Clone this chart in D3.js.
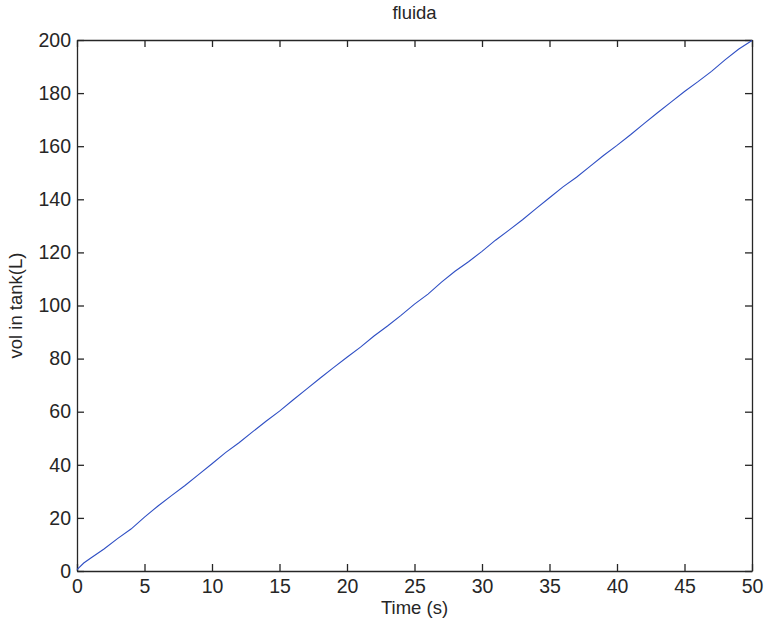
<!DOCTYPE html>
<html><head><meta charset="utf-8">
<script src="https://cdn.jsdelivr.net/npm/d3@7"></script>
<style>body{margin:0;background:#fff}svg{display:block}text{font-family:"Liberation Sans",Arial,sans-serif;fill:#262626}</style>
</head><body><svg id="c" width="764" height="630"></svg>
<script>
const timeValues = [0,0.5,1,2,3,4,5,6,7,8,9,10,11,12,13,14,15,16,17,18,19,20,21,22,23,24,25,26,27,28,29,30,31,32,33,34,35,36,37,38,39,40,41,42,43,44,45,46,47,48,49,50];
const volValues = [0.5,3,4.8,8.3,12.2,15.8,20.3,24.5,28.4,32.2,36.3,40.4,44.6,48.3,52.4,56.4,60.2,64.4,68.5,72.6,76.6,80.5,84.3,88.5,92.3,96.3,100.5,104.3,108.8,112.9,116.5,120.4,124.6,128.4,132.3,136.5,140.6,144.7,148.3,152.4,156.5,160.3,164.3,168.5,172.6,176.6,180.6,184.3,188.2,192.5,196.5,199.8];
const xTicks = [0,5,10,15,20,25,30,35,40,45,50];
const yTicks = [0,20,40,60,80,100,120,140,160,180,200];
const titleText = "fluida", xLabel = "Time (s)", yLabel = "vol in tank(L)";

const L=77,R=752,T=40,B=571, fs=19.5, tl=7, axCol="#262626";
const svg=d3.select("#c");
const x=d3.scaleLinear().domain([0,50]).range([L,R]);
const y=d3.scaleLinear().domain([0,200]).range([B,T]);

const g=svg.append("g");
const bx=g.append("g").attr("transform",`translate(0,${B})`).call(d3.axisBottom(x).tickValues(xTicks).tickSizeInner(-tl).tickSizeOuter(0).tickPadding(8));
const tx=g.append("g").attr("transform",`translate(0,${T})`).call(d3.axisTop(x).tickValues(xTicks).tickSizeInner(-tl).tickSizeOuter(0).tickFormat(""));
const ly=g.append("g").attr("transform",`translate(${L},0)`).call(d3.axisLeft(y).tickValues(yTicks).tickSizeInner(-tl).tickSizeOuter(0).tickPadding(6));
const ry=g.append("g").attr("transform",`translate(${R},0)`).call(d3.axisRight(y).tickValues(yTicks).tickSizeInner(-tl).tickSizeOuter(0).tickFormat(""));
[bx,tx,ly,ry].forEach(a=>{a.selectAll("path,line").attr("stroke",axCol).attr("stroke-width",1.3);a.selectAll("text").attr("font-size",fs).attr("font-family","Liberation Sans, Arial, sans-serif").attr("fill","#1a1a1a");});

const line=d3.line().x((d,i)=>x(timeValues[i])).y(d=>y(d));
g.append("path").datum(volValues).attr("d",line).attr("fill","none").attr("stroke","#2f4fc4").attr("stroke-width",1.1);

svg.append("text").attr("x",(L+R)/2).attr("y",19).attr("text-anchor","middle").attr("font-size",fs-1).text(titleText);
svg.append("text").attr("x",(L+R)/2).attr("y",614).attr("text-anchor","middle").attr("font-size",fs-1).text(xLabel);
svg.append("text").attr("transform",`translate(22,${(T+B)/2}) rotate(-90)`).attr("text-anchor","middle").attr("font-size",fs-1).text(yLabel);
</script></body></html>
